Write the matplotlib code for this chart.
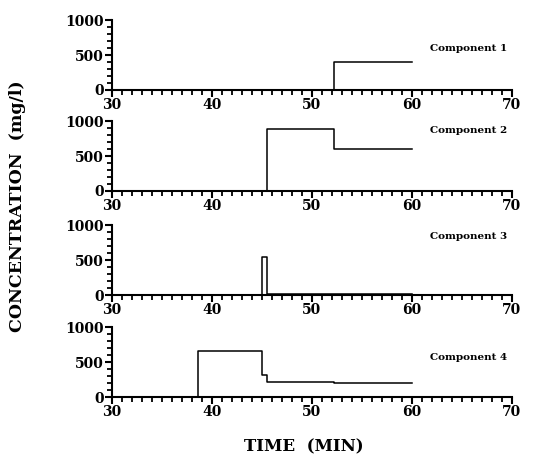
import numpy as np
import matplotlib
matplotlib.use("Agg")
import matplotlib.pyplot as plt
from matplotlib.ticker import MultipleLocator

plt.rcParams['font.family'] = ['DejaVu Serif']
plt.rcParams['font.weight'] = 'bold'

# step profiles: time (min) where each level starts, and the level (mg/l)
t1 = [30, 52.2, 60]
c1 = [0, 400, 400]

t2 = [30, 45.5, 52.2, 60]
c2 = [0, 890, 595, 595]

t3 = [30, 45.0, 45.5, 60]
c3 = [0, 545, 20, 20]

t4 = [30, 38.6, 45.0, 45.5, 52.2, 60]
c4 = [0, 660, 320, 220, 205, 205]

names = ["Component 1", "Component 2", "Component 3", "Component 4"]
label_y = [560, 830, 810, 530]

series = [(t1, c1), (t2, c2), (t3, c3), (t4, c4)]
bottoms = [0.804, 0.584, 0.357, 0.135]

fig = plt.figure(figsize=(5.41, 4.59), dpi=100)

for i, (t, c) in enumerate(series):
    ax = fig.add_axes([0.207, bottoms[i], 0.739, 0.152])
    ax.step(t, c, where='post', color='black', lw=1.1)
    ax.set_xlim(30, 70)
    ax.set_ylim(0, 1000)
    ax.spines['top'].set_visible(False)
    ax.spines['right'].set_visible(False)
    ax.spines['left'].set_linewidth(1.5)
    ax.spines['bottom'].set_linewidth(1.5)
    ax.set_xticks([30, 40, 50, 60, 70])
    ax.set_yticks([0, 500, 1000])
    ax.xaxis.set_minor_locator(MultipleLocator(1))
    ax.yaxis.set_minor_locator(MultipleLocator(100))
    ax.tick_params(which='major', direction='out', length=5, width=1.5,
                   labelsize=10, pad=1)
    ax.tick_params(which='minor', direction='out', length=3.5, width=1.3)
    ax.text(61.8, label_y[i], names[i], fontsize=7.5, fontweight='bold')

fig.text(0.033, 0.55, "CONCENTRATION  (mg/l)", rotation=90, ha='center',
         va='center', fontsize=12.5, fontweight='bold')
fig.text(0.562, 0.026, "TIME  (MIN)", ha='center', va='center',
         fontsize=12, fontweight='bold')

fig.savefig("out.png", dpi=100)
